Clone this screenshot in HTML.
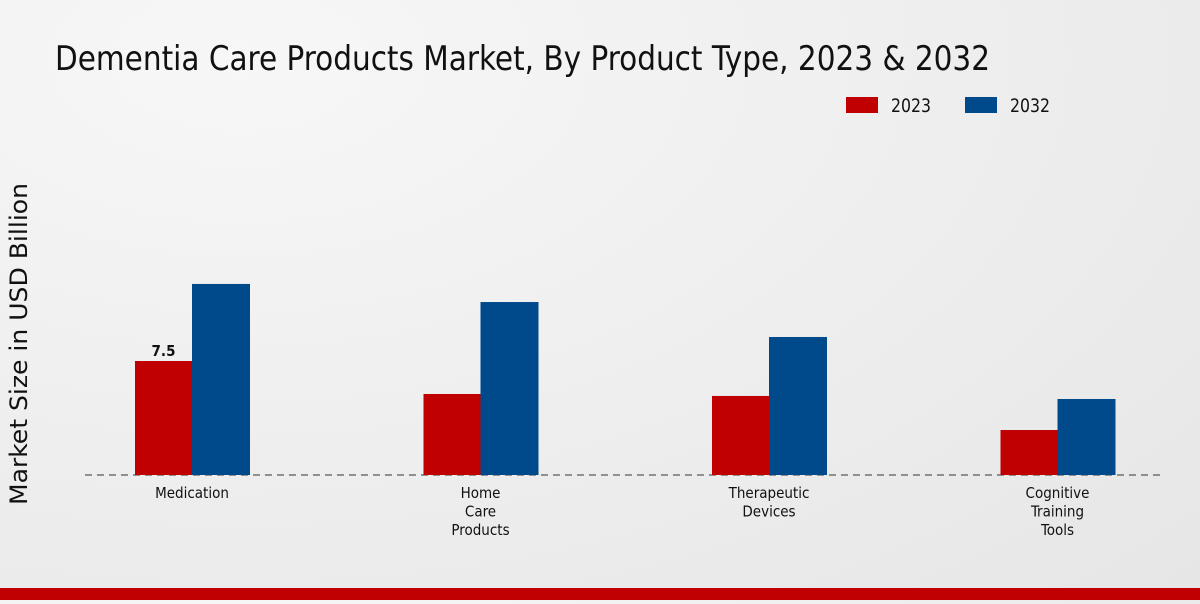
<!DOCTYPE html>
<html><head><meta charset="utf-8"><style>
body{margin:0;width:1200px;height:600px;overflow:hidden;background:radial-gradient(ellipse at 20% 10%,#f7f7f7,#e6e6e6);font-family:"DejaVu Sans Condensed","Liberation Sans Narrow","Liberation Sans",sans-serif;}
</style></head><body>
<svg width="1200" height="600">
<text x="55" y="70" font-size="34" fill="#111" textLength="935" lengthAdjust="spacingAndGlyphs">Dementia Care Products Market, By Product Type, 2023 &amp; 2032</text>
<g>
<rect x="846" y="97" width="32" height="16" fill="#c00000"/>
<text x="891" y="112" font-size="19" fill="#111" textLength="40" lengthAdjust="spacingAndGlyphs">2023</text>
<rect x="965" y="97" width="32" height="16" fill="#004a8c"/>
<text x="1010" y="112" font-size="19" fill="#111" textLength="40" lengthAdjust="spacingAndGlyphs">2032</text>
</g>
<text transform="translate(27,344) rotate(-90)" text-anchor="middle" font-size="24" fill="#111" textLength="322" lengthAdjust="spacingAndGlyphs">Market Size in USD Billion</text>
<line x1="85" y1="475" x2="1165" y2="475" stroke="#333" stroke-dasharray="7,5"/>
<g id="bars"></g>
<rect x="0" y="588" width="1200" height="12" fill="#c00000"/>
</svg>
<script>
const categories=[["Medication"],["Home","Care","Products"],["Therapeutic","Devices"],["Cognitive","Training","Tools"]];
const values2023=[7.5,5.33,5.2,2.96];
const values2032=[12.57,11.38,9.08,5.0];
const labels2023=["7.5","","",""];
const ns="http://www.w3.org/2000/svg";
const g=document.getElementById('bars');
const base=475,scale=15.2;
const y=v=>base-v*scale;
const cx=i=>192+i*288.5;
function mk(tag,attrs){const e=document.createElementNS(ns,tag);for(const k in attrs)e.setAttribute(k,attrs[k]);g.appendChild(e);return e;}
categories.forEach((c,i)=>{
 const r=mk('rect',{x:cx(i)-57,y:y(values2023[i]),width:57,height:values2023[i]*scale,fill:'#c00000'});
 
 
 const b=mk('rect',{x:cx(i),y:y(values2032[i]),width:58,height:values2032[i]*scale,fill:'#004a8c'});
 
 
 if(labels2023[i]){const t=mk('text',{x:cx(i)-28.5,y:y(values2023[i])-5,'text-anchor':'middle','font-size':15,'font-weight':'bold',fill:'#111'});t.textContent=labels2023[i];
 
 }
 c.forEach((line,j)=>{const t=mk('text',{x:cx(i),y:498+j*18.5,'text-anchor':'middle','font-size':15,fill:'#111'});t.textContent=line;
 
 });
});
</script>
</body></html>
